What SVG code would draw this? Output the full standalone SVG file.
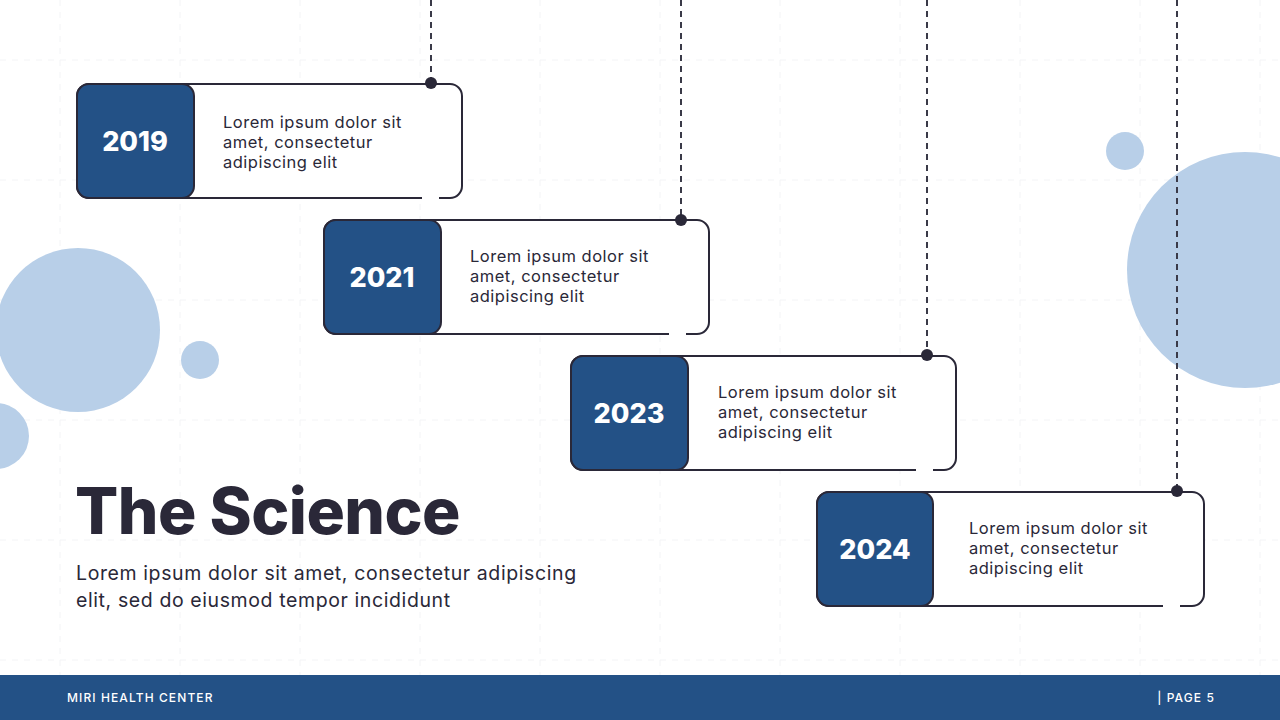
<svg xmlns="http://www.w3.org/2000/svg" width="1280" height="720" viewBox="0 0 1280 720">
<defs><style>
.grid{stroke:#f3f4f6;stroke-width:1;stroke-dasharray:6 6}
.bub{fill:#b8cfe8}
.card{fill:#fff;stroke:#2a2838;stroke-width:2}
.gapline{stroke:#fff;stroke-width:4}
.year{fill:#235186;stroke:#2a2838;stroke-width:2}
.yt{font-family:Inter,"Liberation Sans",sans-serif;font-weight:800;font-size:27px;fill:#fff;text-anchor:middle}
.bt{font-family:Inter,"Liberation Sans",sans-serif;font-size:16.5px;fill:#2a2838;letter-spacing:0.5px}
.conn{stroke:#3a3a48;stroke-width:2;stroke-dasharray:6 5}
.dot{fill:#2a2838}
</style></defs>
<rect width="1280" height="720" fill="#fff"/>
<g id="grid">
<path class="grid" d="M60 0V675M180 0V675M300 0V675M420 0V675M540 0V675M660 0V675M780 0V675M900 0V675M1020 0V675M1140 0V675M1260 0V675M0 60H1280M0 180H1280M0 300H1280M0 420H1280M0 540H1280M0 660H1280"/>
</g>
<g id="bubbles">
<circle class="bub" cx="78" cy="330" r="82"/>
<circle class="bub" cx="200" cy="360" r="19"/>
<circle class="bub" cx="-4" cy="436" r="33"/>
<circle class="bub" cx="1125" cy="151" r="19"/>
<circle class="bub" cx="1245" cy="270" r="118"/>
</g>
<g id="connectors">
<line class="conn" x1="431" y1="0" x2="431" y2="83"/>
<line class="conn" x1="681" y1="0" x2="681" y2="220"/>
<line class="conn" x1="927" y1="0" x2="927" y2="355"/>
<line class="conn" x1="1177" y1="0" x2="1177" y2="491"/>
</g>
<g id="card2019">
<rect class="card" x="77" y="84" width="385" height="114" rx="12"/>
<line class="gapline" x1="422" y1="198" x2="439" y2="198"/>
<rect class="year" x="77" y="84" width="117" height="114" rx="12"/>
<text class="yt" x="135" y="151">2019</text>
<text class="bt" x="223" y="128">Lorem ipsum dolor sit<tspan x="223" dy="20">amet, consectetur</tspan><tspan x="223" dy="20">adipiscing elit</tspan></text>
<circle class="dot" cx="431" cy="83" r="6"/>
</g>
<g id="card2021">
<rect class="card" x="324" y="220" width="385" height="114" rx="12"/>
<line class="gapline" x1="669" y1="334" x2="686" y2="334"/>
<rect class="year" x="324" y="220" width="117" height="114" rx="12"/>
<text class="yt" x="382" y="287">2021</text>
<text class="bt" x="470" y="262">Lorem ipsum dolor sit<tspan x="470" dy="20">amet, consectetur</tspan><tspan x="470" dy="20">adipiscing elit</tspan></text>
<circle class="dot" cx="681" cy="220" r="6"/>
</g>
<g id="card2023">
<rect class="card" x="571" y="356" width="385" height="114" rx="12"/>
<line class="gapline" x1="916" y1="470" x2="933" y2="470"/>
<rect class="year" x="571" y="356" width="117" height="114" rx="12"/>
<text class="yt" x="629" y="423">2023</text>
<text class="bt" x="718" y="398">Lorem ipsum dolor sit<tspan x="718" dy="20">amet, consectetur</tspan><tspan x="718" dy="20">adipiscing elit</tspan></text>
<circle class="dot" cx="927" cy="355" r="6"/>
</g>
<g id="card2024">
<rect class="card" x="817" y="492" width="387" height="114" rx="12"/>
<line class="gapline" x1="1163" y1="606" x2="1180" y2="606"/>
<rect class="year" x="817" y="492" width="116" height="114" rx="12"/>
<text class="yt" x="875" y="559">2024</text>
<text class="bt" x="969" y="534">Lorem ipsum dolor sit<tspan x="969" dy="20">amet, consectetur</tspan><tspan x="969" dy="20">adipiscing elit</tspan></text>
<circle class="dot" cx="1177" cy="491" r="6"/>
</g>
<g id="title">
<text x="75" y="534" font-family="Inter,'Liberation Sans',sans-serif" font-weight="800" font-size="64" fill="#2a2838" letter-spacing="-0.5">The Science</text>
<text x="76" y="580" font-family="Inter,'Liberation Sans',sans-serif" font-size="19.5" fill="#2a2838" letter-spacing="0.6">Lorem ipsum dolor sit amet, consectetur adipiscing<tspan x="76" dy="27">elit, sed do eiusmod tempor incididunt</tspan></text>
</g>
<g id="footer">
<rect x="0" y="675" width="1280" height="45" fill="#235186"/>
<text x="67" y="702" font-family="Inter,'Liberation Sans',sans-serif" font-size="12" font-weight="500" fill="#fff" letter-spacing="1.1">MIRI HEALTH CENTER</text>
<text x="1215" y="702" text-anchor="end" font-family="Inter,'Liberation Sans',sans-serif" font-size="12" font-weight="500" fill="#fff" letter-spacing="1.1">| PAGE 5</text>
</g>
</svg>
